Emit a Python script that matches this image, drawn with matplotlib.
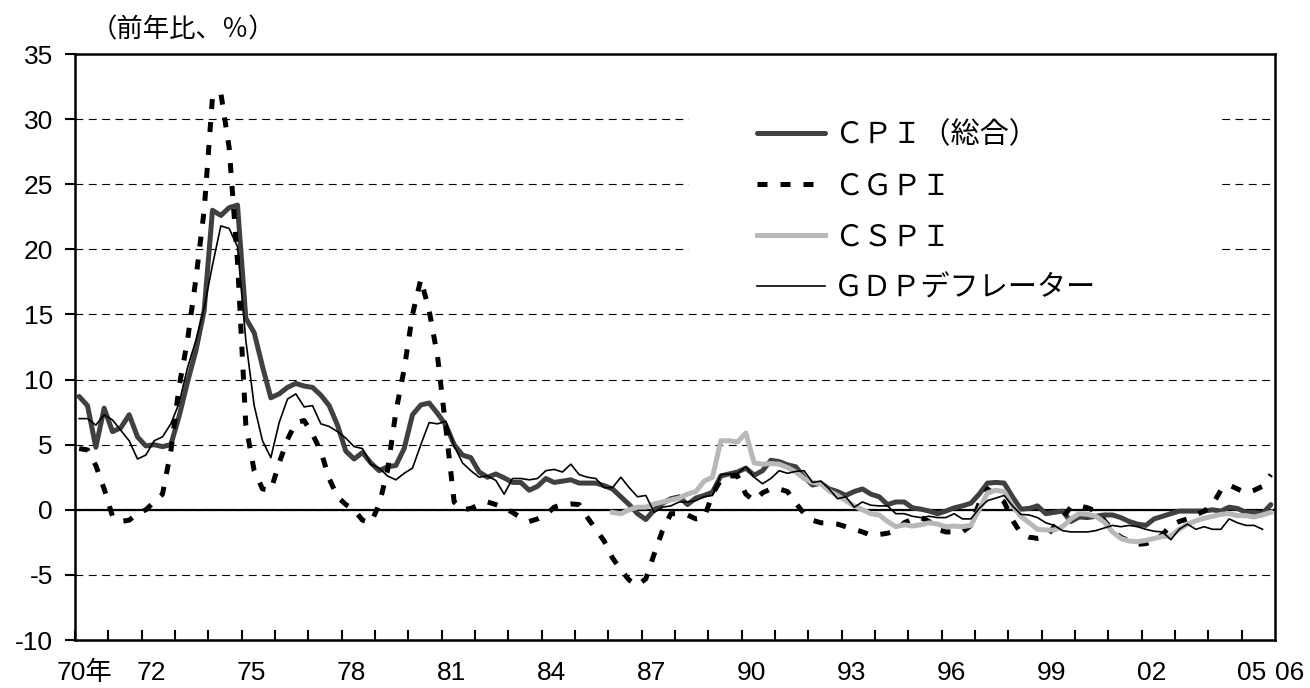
import numpy as np
import matplotlib
matplotlib.use("Agg")
import matplotlib.pyplot as plt
from matplotlib.patches import Rectangle

plt.rcParams['font.family'] = ['Noto Sans CJK JP', 'DejaVu Sans']
plt.rcParams['axes.unicode_minus'] = False

# quarterly, year-on-year % (1970Q1 - 2005Q4)
cpi = [8.7, 8.0, 4.8, 7.8, 6.0, 6.3, 7.3, 5.6, 4.9, 5.0,
       4.85, 5.0, 7.2, 9.8, 12.2, 15.3, 23.0, 22.6, 23.2, 23.4,
       14.7, 13.6, 11.0, 8.6, 8.9, 9.4, 9.7, 9.5, 9.4, 8.8,
       8.0, 6.5, 4.5, 3.9, 4.4, 3.6, 3.0, 3.3, 3.4, 4.7,
       7.3, 8.05, 8.2, 7.4, 6.5, 5.0, 4.2, 4.0, 2.9, 2.5,
       2.75, 2.45, 2.1, 2.1, 1.5, 1.8, 2.4, 2.1, 2.2, 2.3,
       2.05, 2.05, 2.05, 1.85, 1.6, 1.0, 0.4, -0.3, -0.75, 0.0,
       0.5, 0.85, 1.0, 0.4, 0.9, 1.1, 1.35, 2.6, 2.75, 2.9,
       3.2, 2.65, 3.0, 3.8, 3.7, 3.45, 3.3, 2.5, 1.9, 2.05,
       1.6, 1.4, 1.1, 1.4, 1.6, 1.2, 1.0, 0.4, 0.6, 0.6,
       0.15, 0.05, -0.1, -0.3, -0.1, 0.15, 0.3, 0.5, 1.2, 2.05,
       2.1, 2.05, 1.0, 0.05, 0.1, 0.3, -0.3, -0.2, -0.1, -0.9,
       -0.55, -0.6, -0.5, -0.4, -0.4, -0.6, -0.9, -1.1, -1.2, -0.7,
       -0.5, -0.3, -0.1, -0.1, -0.1, -0.1, 0.0, -0.1, 0.2, 0.1,
       -0.2, -0.2, -0.3, 0.4]

cgpi = [4.7, 4.6, 3.4, 1.6, -0.5, -0.9, -0.8, -0.3, 0.0, 0.6,
        1.2, 4.5, 9.5, 13.0, 17.7, 23.0, 31.7, 32.0, 27.8, 19.1,
        6.5, 3.0, 1.6, 1.5, 3.6, 5.4, 6.7, 6.85, 5.8, 4.5,
        2.4, 1.0, 0.4, 0.0, -0.8, -1.0, 0.4, 3.0, 7.5, 10.8,
        15.0, 17.7, 15.3, 11.8, 6.3, 0.6, 0.0, 0.1, 0.4, 0.6,
        0.4, 0.15, -0.2, -0.6, -0.9, -0.7, -0.4, 0.2, 0.4, 0.45,
        0.4, -0.6, -1.5, -2.4, -3.7, -4.6, -5.4, -5.8, -5.3, -3.4,
        -1.6, -0.3, -0.3, -0.4, -0.7, -0.6, 1.2, 2.3, 2.6, 2.6,
        1.2, 0.7, 1.3, 1.6, 1.6, 1.4, 0.5, -0.3, -0.8, -1.0,
        -1.0, -1.1, -1.3, -1.5, -1.7, -1.95, -1.9, -1.8, -1.6, -1.0,
        -0.7, -0.6, -0.9, -1.5, -1.7, -1.7, -1.7, -1.2, 0.5, 1.6,
        1.1, 0.6, -0.8, -1.8, -2.1, -2.2, -2.1, -1.3, -0.6, 0.2,
        0.3, 0.15, -0.1, -0.8, -1.6, -2.1, -2.4, -2.65, -2.6, -2.4,
        -1.9, -1.2, -0.9, -0.7, -0.4, -0.1, 0.4, 1.5, 1.9, 1.6,
        1.3, 1.5, 1.8, 2.7]

# CSPI starts 1986Q1
cspi_start = 1986
cspi = [-0.2, -0.3, 0.0, 0.2, 0.2, 0.45, 0.6, 0.75, 0.9, 1.2,
        1.4, 2.2, 2.5, 5.3, 5.3, 5.2, 5.9, 3.6, 3.5, 3.55,
        3.5, 3.25, 2.9, 2.4, 2.1, 2.0, 1.45, 1.1, 0.7, 0.3,
        0.0, -0.3, -0.4, -0.9, -1.3, -1.15, -1.25, -1.15, -1.0, -1.1,
        -1.3, -1.25, -1.3, -1.2, 0.0, 1.3, 1.5, 1.4, 0.3, -0.5,
        -1.0, -1.5, -1.55, -1.55, -1.3, -0.7, -0.3, -0.35, -0.5, -0.95,
        -1.7, -2.2, -2.4, -2.45, -2.35, -2.2, -2.05, -2.0, -1.5, -1.1,
        -0.85, -0.65, -0.5, -0.35, -0.3, -0.45, -0.45, -0.55, -0.4, -0.2]

gdp = [7.0, 7.0, 6.5, 7.3, 6.9, 6.1, 5.3, 3.9, 4.2, 5.3,
       5.6, 6.6, 8.2, 10.9, 13.0, 15.5, 18.8, 21.8, 21.6, 20.2,
       13.0, 8.0, 5.3, 4.0, 6.7, 8.5, 8.9, 7.9, 8.0, 6.6,
       6.4, 6.0, 5.5, 4.85, 4.7, 3.5, 3.2, 2.6, 2.3, 2.8,
       3.2, 5.0, 6.7, 6.6, 6.8, 4.9, 3.6, 3.0, 2.5, 2.6,
       2.25, 1.2, 2.4, 2.4, 2.3, 2.4, 3.0, 3.1, 2.9, 3.5,
       2.7, 2.5, 2.4, 1.7, 1.7, 2.5, 1.7, 1.0, 1.1, -0.2,
       0.2, 0.3, 0.6, 0.6, 0.7, 1.0, 1.1, 2.7, 2.75, 2.8,
       3.3, 2.5, 2.0, 2.4, 3.0, 2.8, 2.95, 3.0, 2.1, 2.2,
       1.6, 0.85, 1.0, 0.2, 0.6, 0.35, 0.3, 0.3, -0.3, -0.3,
       -0.5, -0.6, -0.5, -0.6, -0.6, -0.3, -0.7, -0.7, 0.1, 0.7,
       0.9, 1.1, 0.3, -0.35, -0.4, -0.6, -1.0, -1.2, -1.6, -1.7,
       -1.7, -1.7, -1.6, -1.4, -1.2, -1.3, -1.2, -1.3, -1.5, -1.65,
       -1.7, -2.3, -1.5, -1.1, -1.5, -1.3, -1.5, -1.5, -0.7, -1.0,
       -1.2, -1.2, -1.5]

labels = ['ＣＰＩ（総合）', 'ＣＧＰＩ', 'ＣＳＰＩ', 'ＧＤＰデフレーター']
tick_years = [1970, 1972, 1975, 1978, 1981, 1984, 1987, 1990, 1993, 1996,
              1999, 2002, 2005, 2006]
tick_labels = ['70年', '72', '75', '78', '81', '84', '87', '90', '93', '96',
               '99', '02', '05', '06']


def qx(start, n):
    # centre of each quarter
    return start + (np.arange(n) + 0.5) / 4


fig = plt.figure(figsize=(13.1, 6.88), dpi=100)
ax = fig.add_axes([75 / 1310, 48 / 688, 1200 / 1310, 586 / 688])

ax.plot(qx(1970, len(cpi)), cpi, color='#404040', lw=3.6, zorder=3,
        solid_capstyle='round', label=labels[0])
ax.plot(qx(1970, len(cgpi)), cgpi, color='black', lw=3.6, zorder=3,
        dashes=(2.0, 2.6), dash_capstyle='butt', label=labels[1])
ax.plot(qx(cspi_start, len(cspi)), cspi, color='#b8b8b8', lw=3.6, zorder=4,
        label=labels[2])
ax.plot(qx(1970, len(gdp)), gdp, color='black', lw=1.2, zorder=5,
        label=labels[3])

ax.axhline(0, color='black', lw=1.6, zorder=2)

ax.set_xlim(1970, 2006)
ax.set_ylim(-10, 35)
ax.set_yticks(np.arange(-10, 36, 5))
ax.set_axisbelow(True)
ax.yaxis.grid(True, color='black', lw=0.8, linestyle=(0, (7, 5)))

# white patch behind the legend hides the grid there
ax.add_patch(Rectangle((0.512, 0.575), 0.44, 0.36, transform=ax.transAxes,
                       facecolor='white', edgecolor='none', zorder=1))

ax.set_xticks(np.arange(1970, 2007), minor=True)
lab_pos = [y + 0.3 for y in tick_years[:-1]] + [tick_years[-1]]
ax.set_xticks(lab_pos, tick_labels)
ax.tick_params(axis='x', which='minor', direction='in', length=7, width=1.5)
ax.tick_params(axis='x', which='major', length=0, pad=15)
ax.tick_params(axis='y', direction='out', length=7, width=1.5, pad=9)

tick_font = ['Liberation Sans', 'Noto Sans CJK JP']
for t in ax.get_xticklabels() + ax.get_yticklabels():
    t.set_family(tick_font)
    t.set_fontsize(19)
ax.get_xticklabels()[-1].set_ha('left')

for s in ax.spines.values():
    s.set_linewidth(1.8)

ax.legend(loc='upper left', bbox_to_anchor=(0.568, 0.887), frameon=False,
          fontsize=21, handlelength=2.35, handletextpad=0.3, labelspacing=0.72,
          borderpad=0, borderaxespad=0)

fig.text(183 / 1310, 1 - 30 / 688, '（前年比、％）', ha='center', va='center',
         fontsize=19)

fig.savefig('out.png', dpi=100)
